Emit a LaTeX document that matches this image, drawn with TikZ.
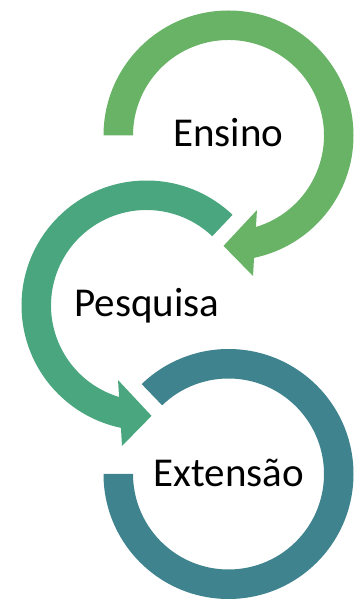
\documentclass[tikz,border=0pt]{standalone}
\usepackage{fontspec}
\setmainfont{Carlito}
\usetikzlibrary{calc}
\definecolor{cgreen}{RGB}{104,179,101}
\definecolor{cteal}{RGB}{74,166,126}
\definecolor{cblue}{RGB}{62,131,142}
\begin{document}
\begin{tikzpicture}[x=1pt,y=1pt,
  lbl/.style={font=\fontsize{41}{49}\selectfont, anchor=base, inner sep=0pt, text=black}]
\useasboundingbox (0,0) rectangle (360,606);
\coordinate (ctop) at (228.5,470.5);
\coordinate (cmid) at (146.5,300.5);
\coordinate (cbot) at (228.5,132);
% top arrow (Ensino)
\fill[cgreen] ($(ctop)+(180:125)$) arc[start angle=180, end angle=-78.2, radius=125]
  -- ($(ctop)+(-80.1:142.6)$) -- ($(ctop)+(-92.6:110.5)$) -- ($(ctop)+(-69.1:79.8)$)
  -- ($(ctop)+(-73.3:95.5)$) arc[start angle=-73.3, end angle=180, radius=95.5] -- cycle;
% middle arrow (Pesquisa)
\fill[cteal] ($(cmid)+(46.5:125)$) arc[start angle=46.5, end angle=258.2, radius=125]
  -- ($(cmid)+(260.1:142.6)$) -- ($(cmid)+(272.6:110.5)$) -- ($(cmid)+(249.1:79.8)$)
  -- ($(cmid)+(253.3:95.5)$) arc[start angle=253.3, end angle=46.5, radius=95.5] -- cycle;
% bottom ring (Extensao)
\fill[cblue] ($(cbot)+(180:125)$) arc[start angle=180, end angle=494, radius=125]
  -- ($(cbot)+(494:95.5)$) arc[start angle=494, end angle=180, radius=95.5] -- cycle;
\node[lbl] (ensino) at (228.5,459) {Ensino};
\node[lbl] (pesquisa) at (147,289) {Pesquisa};
\node[lbl] (extensao) at (229,119.5) {Extensão};
\end{tikzpicture}
\end{document}
